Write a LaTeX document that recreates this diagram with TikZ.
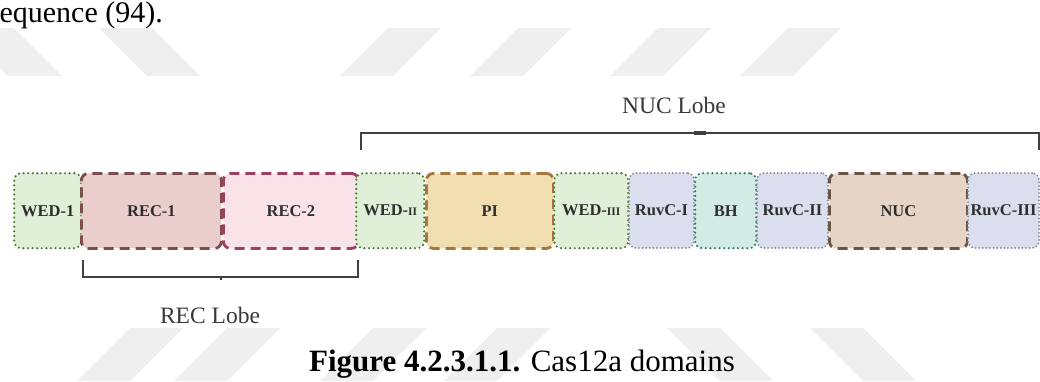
\documentclass[tikz,border=0pt]{standalone}
\usepackage{fontspec}
\setmainfont{Liberation Serif}

% fills and outlines of the domain boxes
\definecolor{wedfill}{RGB}{224,240,216}
\definecolor{wedline}{RGB}{74,122,52}
\definecolor{recAfill}{RGB}{234,206,206}
\definecolor{recAline}{RGB}{124,78,78}
\definecolor{recBfill}{RGB}{250,226,233}
\definecolor{recBline}{RGB}{158,62,96}
\definecolor{pifill}{RGB}{240,222,176}
\definecolor{piline}{RGB}{168,118,60}
\definecolor{ruvfill}{RGB}{219,222,238}
\definecolor{ruvline}{RGB}{132,132,146}
\definecolor{bhfill}{RGB}{210,236,229}
\definecolor{bhline}{RGB}{46,122,104}
\definecolor{nucfill}{RGB}{230,213,198}
\definecolor{nucline}{RGB}{108,84,68}
\definecolor{bracketgray}{RGB}{64,64,64}
\definecolor{stripe}{RGB}{239,239,239}

\begin{document}
\begin{tikzpicture}[x=1pt,y=-1pt,
  dombox/.style={rounded corners=7pt, minimum height=75pt, inner sep=0pt,
    anchor=north west, text=black!82,
    font=\bfseries\fontsize{16.5}{16.5}\selectfont},
  dotbox/.style={dombox, line width=2.4pt, line cap=round,
    dash pattern=on 0pt off 4.6pt},
  dashbox/.style={dombox, line width=2.8pt, dash pattern=on 10pt off 6pt},
  wed/.style={dotbox, draw=wedline, fill=wedfill},
  ruv/.style={dotbox, draw=ruvline, fill=ruvfill, line width=2pt,
    dash pattern=on 0pt off 3.6pt},
  bh/.style={dotbox, draw=bhline, fill=bhfill},
  recA/.style={dashbox, draw=recAline, fill=recAfill},
  recB/.style={dashbox, draw=recBline, fill=recBfill},
  pibox/.style={dashbox, draw=piline, fill=pifill},
  nucbox/.style={dashbox, draw=nucline, fill=nucfill},
  bracket/.style={draw=bracketgray, line width=2.2pt, line join=miter},
  lobe/.style={text=black!78, font=\fontsize{23.5}{23.5}\selectfont},
  bodytext/.style={inner sep=0pt, font=\fontsize{30}{30}\selectfont}
]
\useasboundingbox (0,0) rectangle (1040,381);

% faint diagonal bands of the page background
\begin{scope}[fill=stripe]
  \fill (-40,28) -- (14,28) -- (62,76) -- (8,76) -- cycle;
  \fill (99,28) -- (152,28) -- (200,76) -- (147,76) -- cycle;
  \fill (388,28) -- (441,28) -- (393,76) -- (340,76) -- cycle;
  \fill (518,28) -- (571,28) -- (523,76) -- (470,76) -- cycle;
  \fill (658,28) -- (711,28) -- (663,76) -- (610,76) -- cycle;
  \fill (788,28) -- (841,28) -- (793,76) -- (740,76) -- cycle;
  \fill (130,328) -- (183,328) -- (130,381) -- (77,381) -- cycle;
  \fill (227,328) -- (280,328) -- (227,381) -- (174,381) -- cycle;
  \fill (373,328) -- (426,328) -- (373,381) -- (320,381) -- cycle;
  \fill (497,328) -- (550,328) -- (497,381) -- (444,381) -- cycle;
  \fill (667,328) -- (720,328) -- (773,381) -- (720,381) -- cycle;
  \fill (810,328) -- (863,328) -- (916,381) -- (863,381) -- cycle;
\end{scope}

% end of the preceding paragraph
\node[bodytext, anchor=base east] (prevline) at (163,22) {equence (94).};

% domain boxes, left to right
\node[wed,  minimum width=67pt]  (wed1) at (13,172)  {WED-1};
\node[recA, minimum width=140pt] (rec1) at (80,172)  {REC-1};
\node[recB, minimum width=135pt] (rec2) at (222,172) {REC-2};
\node[wed,  minimum width=68pt]  (wed2) at (355,172)
  {WED-{\fontsize{11.5}{11.5}\selectfont II}};
\node[pibox,minimum width=127pt] (pi)   at (425,172) {PI};
\node[wed,  minimum width=74pt]  (wed3) at (553,172)
  {WED-{\fontsize{11.5}{11.5}\selectfont III}};
\node[ruv,  minimum width=65pt]  (ruv1) at (628,172) {RuvC-I};
\node[bh,   minimum width=61pt]  (bh)   at (694,172) {BH};
\node[ruv,  minimum width=71pt]  (ruv2) at (756,172) {RuvC-II};
\node[nucbox,minimum width=138pt](nuc)  at (828,172) {NUC};
\node[ruv,  minimum width=71pt]  (ruv3) at (967,172) {RuvC-III};

% NUC lobe bracket
\coordinate (nucL)  at (361,150);
\coordinate (nucTL) at (361,133);
\coordinate (nucTR) at (1039,133);
\coordinate (nucR)  at (1039,150);
\draw[bracket] (nucL) -- (nucTL) -- (nucTR) -- (nucR);
\draw[bracketgray, line width=3.6pt] (694,133) -- (706,133);
\node[lobe] (nuclobe) at (674,105) {NUC Lobe};

% REC lobe bracket
\coordinate (recL)  at (83,260);
\coordinate (recBL) at (83,277);
\coordinate (recBR) at (358,277);
\coordinate (recR)  at (358,260);
\draw[bracket] (recL) -- (recBL) -- (recBR) -- (recR);
\draw[bracketgray, line width=2.6pt] (221,277) -- (221,280);
\node[lobe] (reclobe) at (210,315) {REC Lobe};

% caption
\node[bodytext, anchor=base, font=\fontsize{31}{31}\selectfont]
  (caption) at (522,371) {\textbf{Figure 4.2.3.1.1.} Cas12a domains};
\end{tikzpicture}
\end{document}
